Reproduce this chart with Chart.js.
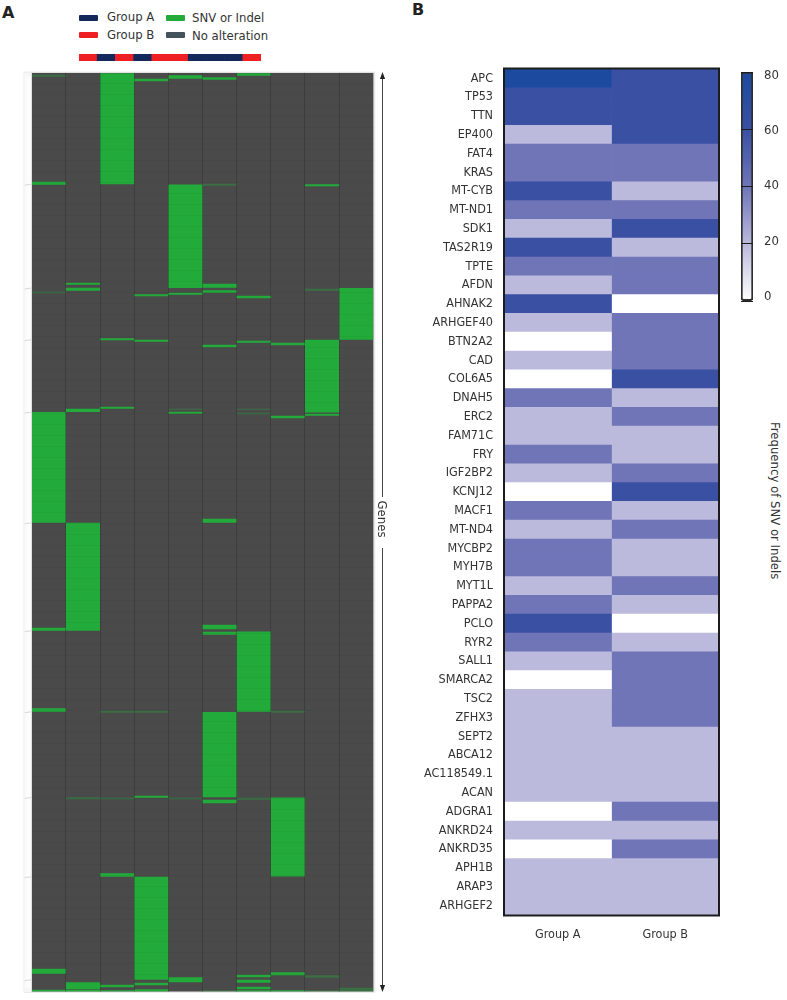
<!DOCTYPE html>
<html>
<head>
<meta charset="utf-8">
<title>SNV or Indel heatmaps</title>
<script src="https://cdn.jsdelivr.net/npm/chart.js@4"></script>
<style>
  body { margin: 0; background: #fff; width: 787px; height: 1000px; position: relative; overflow: hidden;
         font-family: 'DejaVu Sans Condensed', 'DejaVu Sans', sans-serif; color: #333; }
  canvas { position: absolute; }
  .txt { position: absolute; font-size: 13px; line-height: 16px; white-space: nowrap; }
  .sw { position: absolute; width: 19px; height: 6px; border-radius: 1px; }
  .panel { position: absolute; font: bold 16px 'DejaVu Sans', sans-serif; color: #222; line-height: 16px; }
  .vert { position: absolute; writing-mode: vertical-rl; font-size: 13px; white-space: nowrap; }
</style>
</head>
<body>
<div class="panel" style="left:2px;top:5px">A</div>
<div class="panel" style="left:412px;top:2px">B</div>

<div class="sw" style="left:79px;top:15px;background:#14285c"></div>
<div class="txt" style="left:107px;top:9px">Group A</div>
<div class="sw" style="left:79px;top:32px;background:#ee2024"></div>
<div class="txt" style="left:107px;top:27px">Group B</div>
<div class="sw" style="left:166px;top:15px;background:#22ab3a"></div>
<div class="txt" style="left:192px;top:10px">SNV or Indel</div>
<div class="sw" style="left:166px;top:32px;background:#44525c"></div>
<div class="txt" style="left:192px;top:28px">No alteration</div>
<div class="vert" style="left:768px;top:422px">Frequency of SNV or Indels</div>

<canvas id="oncoChart" width="400" height="1000" style="left:0;top:0"></canvas>
<canvas id="stripChart" width="182" height="7" style="left:79px;top:54px"></canvas>
<canvas id="freqChart" width="345" height="960" style="left:400px;top:0"></canvas>
<canvas id="scaleChart" width="57" height="320" style="left:730px;top:0"></canvas>

<script>
// Panel A: samples and their mutated gene rows (row 0 = top of the panel)
const samples = ['S1', 'S2', 'S3', 'S4', 'S5', 'S6', 'S7', 'S8', 'S9', 'S10'];
const sampleGroups = ['B', 'A', 'B', 'A', 'B', 'B', 'A', 'A', 'A', 'B'];
const rowCount = 919;

const sample1 = [[109, 112], [339.3, 450], [555, 558], [635.5, 639], [896, 901], [917, 919]];
const sample2 = [[210, 212], [215, 218], [336, 339.3], [450, 558], [909.5, 916.5], [917, 919]];
const sample3 = [[0, 111.5], [265.5, 267.5], [334, 336], [800.5, 804], [912, 914.5], [917.5, 919]];
const sample4 = [[6, 8.5], [221.5, 223.5], [267, 269], [723, 725], [804, 907], [910, 912.5], [916.5, 919]];
const sample5 = [[2.5, 6], [111.7, 215.3], [220, 222], [339, 341], [904.5, 909.5]];
const sample6 = [[4.5, 7], [211, 215], [217.5, 220], [272, 274.5], [446, 450], [552, 556.5], [559, 562], [639.3, 724.5], [727, 730.5]];
const sample7 = [[0, 3], [223, 225.5], [268, 270], [558.7, 639], [902, 904.5], [907, 910], [914, 916.5], [917.5, 919]];
const sample8 = [[270, 272.5], [343, 345.5], [724.7, 803.7], [899.5, 902.5], [917.5, 919]];
const sample9 = [[111.5, 113.5], [267, 339.7], [341, 343]];
const sample10 = [[215.3, 267]];

// weak bands in the same panel
const sample1Faint = [[2, 4], [219, 220.5]];
const sample2Faint = [[724.5, 726.5]];
const sample3Faint = [[725, 726.5], [638, 640]];
const sample4Faint = [[638, 640]];
const sample5Faint = [[336, 337], [725, 726.5]];
const sample6Faint = [[111, 113], [917.5, 919]];
const sample7Faint = [[336, 337], [340, 341.5], [725, 727]];
const sample8Faint = [[638, 640]];
const sample9Faint = [[216, 218], [902.5, 905], [917.5, 919]];
const sample10Faint = [[915, 919]];

const blockBreaks = [111.5, 215.3, 267, 339.3, 450, 558, 639, 724.7, 804, 907];

// Panel B: frequency of SNV or Indels
const genes = ['APC', 'TP53', 'TTN', 'EP400', 'FAT4', 'KRAS', 'MT-CYB', 'MT-ND1', 'SDK1', 'TAS2R19', 'TPTE', 'AFDN', 'AHNAK2', 'ARHGEF40', 'BTN2A2', 'CAD', 'COL6A5', 'DNAH5', 'ERC2', 'FAM71C', 'FRY', 'IGF2BP2', 'KCNJ12', 'MACF1', 'MT-ND4', 'MYCBP2', 'MYH7B', 'MYT1L', 'PAPPA2', 'PCLO', 'RYR2', 'SALL1', 'SMARCA2', 'TSC2', 'ZFHX3', 'SEPT2', 'ABCA12', 'AC118549.1', 'ACAN', 'ADGRA1', 'ANKRD24', 'ANKRD35', 'APH1B', 'ARAP3', 'ARHGEF2'];
const groupNames = ['Group A', 'Group B'];
const groupAFreq = [80, 60, 60, 20, 40, 40, 60, 40, 20, 60, 40, 20, 60, 20, 0, 20, 0, 40, 20, 20, 40, 20, 0, 40, 20, 40, 40, 20, 40, 60, 40, 20, 0, 20, 20, 20, 20, 20, 20, 0, 20, 0, 20, 20, 20];
const groupBFreq = [60, 60, 60, 60, 40, 40, 20, 40, 60, 20, 40, 40, 0, 40, 40, 40, 60, 20, 40, 20, 20, 40, 60, 20, 40, 20, 20, 40, 20, 0, 20, 40, 40, 40, 40, 20, 20, 20, 20, 40, 20, 40, 20, 20, 20];
const scaleTicks = [0, 20, 40, 60, 80];

const fontName = "'DejaVu Sans Condensed', 'DejaVu Sans', sans-serif";
const green = '#22ab3a';
const greenFaint = 'rgba(34, 171, 58, 0.38)';
const freqColors = { 0: '#ffffff', 20: '#bbb9dc', 40: '#6f75b7', 60: '#3a50a3', 80: '#1c4a9e' };

// one dataset per layer, so a sample can hold several bands
function bandLayers(lists, color, inflate) {
  const depth = Math.max(...lists.map(l => l.length));
  const layers = [];
  for (let i = 0; i < depth; i++) {
    layers.push({
      data: lists.map(l => l[i] || null),
      backgroundColor: color,
      barPercentage: 1,
      categoryPercentage: 1,
      grouped: false,
      inflateAmount: inflate
    });
  }
  return layers;
}

// Arrow, "Genes" label and the pale tree strip left of the panel
const oncoDecor = {
  id: 'oncoDecor',
  afterDraw(chart) {
    const { ctx, chartArea: a, scales } = chart;
    ctx.save();
    // pale frame
    ctx.strokeStyle = '#e2e2e2';
    ctx.lineWidth = 1;
    ctx.beginPath();
    ctx.moveTo(a.left - 8, a.top - 0.5);
    ctx.lineTo(a.right + 1.5, a.top - 0.5);
    ctx.lineTo(a.right + 1.5, a.bottom + 0.5);
    ctx.lineTo(a.left - 8, a.bottom + 0.5);
    ctx.stroke();
    ctx.fillStyle = '#f6f6f6';
    ctx.fillRect(a.left - 9, a.top, 9, a.bottom - a.top);
    ctx.fillStyle = '#fcfcfc';
    ctx.fillRect(a.left - 6, a.top + 4, 5, a.bottom - a.top - 8);
    ctx.strokeStyle = '#d8d8d8';
    blockBreaks.forEach(r => {
      const y = scales.y.getPixelForValue(r);
      ctx.beginPath();
      ctx.moveTo(a.left - 7, y + 1);
      ctx.lineTo(a.left, y);
      ctx.stroke();
    });

    // genes arrow
    const x = 382.5;
    ctx.strokeStyle = '#444';
    ctx.fillStyle = '#222';
    ctx.beginPath();
    ctx.moveTo(x, 74);
    ctx.lineTo(x, 497);
    ctx.moveTo(x, 548);
    ctx.lineTo(x, 990);
    ctx.stroke();
    ctx.beginPath();
    ctx.moveTo(x, 72);
    ctx.lineTo(x - 2.6, 79);
    ctx.lineTo(x + 2.6, 79);
    ctx.closePath();
    ctx.moveTo(x, 992);
    ctx.lineTo(x - 2.6, 985);
    ctx.lineTo(x + 2.6, 985);
    ctx.closePath();
    ctx.fill();

    ctx.translate(381, 519);
    ctx.rotate(Math.PI / 2);
    ctx.font = '13px ' + fontName;
    ctx.fillStyle = '#333';
    ctx.textAlign = 'center';
    ctx.textBaseline = 'middle';
    ctx.fillText('Genes', 0, 0);
    ctx.restore();
  }
};

// Panel A: dark background bars last in the list so they sit under the bands
new Chart(document.getElementById('oncoChart'), {
  type: 'bar',
  data: {
    labels: samples,
    datasets: [
      ...bandLayers([sample1, sample2, sample3, sample4, sample5, sample6, sample7, sample8, sample9, sample10], green, 0),
      ...bandLayers([sample1Faint, sample2Faint, sample3Faint, sample4Faint, sample5Faint, sample6Faint, sample7Faint, sample8Faint, sample9Faint, sample10Faint], greenFaint, 0),
      ...bandLayers(samples.map(() => [[0, rowCount]]), '#4a4a4a', 0.6)
    ]
  },
  options: {
    responsive: false,
    animation: false,
    layout: { padding: { left: 31.7, top: 72.7, right: 26.7, bottom: 8.3 } },
    plugins: { legend: { display: false }, tooltip: { enabled: false } },
    scales: {
      x: {
        ticks: { display: false },
        border: { display: false },
        grid: { drawTicks: false, color: 'rgba(0, 0, 0, 0.16)', z: 1 }
      },
      y: {
        reverse: true,
        min: 0,
        max: rowCount,
        ticks: { display: false, stepSize: 11 },
        border: { display: false },
        grid: { drawTicks: false, color: 'rgba(0, 0, 0, 0.04)', z: 1 }
      }
    }
  },
  plugins: [oncoDecor]
});

// Group strip above panel A
new Chart(document.getElementById('stripChart'), {
  type: 'bar',
  data: {
    labels: samples,
    datasets: [{
      data: samples.map(() => 1),
      backgroundColor: sampleGroups.map(g => g === 'A' ? '#14285c' : '#ee2024'),
      barPercentage: 1,
      categoryPercentage: 1
    }]
  },
  options: {
    responsive: false,
    animation: false,
    plugins: { legend: { display: false }, tooltip: { enabled: false } },
    scales: {
      x: { display: false },
      y: { display: false, min: 0, max: 1 }
    }
  }
});

// Black frame around panel B
const heatFrame = {
  id: 'heatFrame',
  afterDraw(chart) {
    const { ctx, chartArea: a } = chart;
    ctx.save();
    ctx.strokeStyle = '#1c1c1c';
    ctx.lineWidth = 2;
    ctx.strokeRect(a.left, a.top - 0.5, a.right - a.left, a.bottom - a.top + 1);
    ctx.restore();
  }
};

function freqDataset(freqs, name) {
  return {
    label: name,
    data: genes.map(() => 1),
    backgroundColor: freqs.map(v => freqColors[v]),
    barPercentage: 1,
    categoryPercentage: 1
  };
}

new Chart(document.getElementById('freqChart'), {
  type: 'bar',
  data: {
    labels: genes,
    datasets: [freqDataset(groupAFreq, groupNames[0]), freqDataset(groupBFreq, groupNames[1])]
  },
  options: {
    indexAxis: 'y',
    responsive: false,
    animation: false,
    layout: { padding: { top: 69, right: 26, bottom: 0 } },
    plugins: { legend: { display: false }, tooltip: { enabled: false } },
    scales: {
      x: {
        stacked: true,
        min: 0,
        max: 2,
        afterBuildTicks(scale) { scale.ticks = [{ value: 0.5 }, { value: 1.5 }]; },
        afterFit(scale) { scale.height = 45; },
        ticks: {
          padding: 4,
          color: '#333',
          font: { family: fontName, size: 12.5 },
          callback: value => groupNames[value - 0.5]
        },
        border: { display: false },
        grid: { display: false }
      },
      y: {
        stacked: true,
        afterFit(scale) { scale.width = 104; },
        ticks: {
          autoSkip: false,
          padding: 3,
          color: '#333',
          font: { family: fontName, size: 12.5 }
        },
        border: { display: false },
        grid: { display: false }
      }
    }
  },
  plugins: [heatFrame]
});

// Colour bar: gradient bar on one axis, labels on a second axis
function scaleGradient(context) {
  const { ctx, chartArea, scales } = context.chart;
  if (!chartArea) return freqColors[40];
  const g = ctx.createLinearGradient(0, scales.y.getPixelForValue(0), 0, scales.y.getPixelForValue(80));
  scaleTicks.forEach(t => g.addColorStop(t / 80, freqColors[t]));
  return g;
}

new Chart(document.getElementById('scaleChart'), {
  type: 'bar',
  data: {
    labels: ['Frequency'],
    datasets: [{
      data: [[scaleTicks[0], scaleTicks[4]]],
      backgroundColor: scaleGradient,
      borderColor: '#2e2e2e',
      borderWidth: 2,
      borderRadius: 3,
      borderSkipped: false,
      barPercentage: 1,
      categoryPercentage: 1,
      yAxisID: 'y'
    }]
  },
  options: {
    responsive: false,
    animation: false,
    layout: { padding: { left: 11, top: 72, right: 0, bottom: 15 } },
    plugins: { legend: { display: false }, tooltip: { enabled: false } },
    scales: {
      x: { display: false },
      y: {
        position: 'left',
        min: 0,
        max: 80,
        afterBuildTicks(scale) { scale.ticks = scaleTicks.map(value => ({ value })); },
        afterFit(scale) { scale.width = 0; },
        ticks: { display: false },
        border: { display: false },
        grid: { drawTicks: false, color: '#1c1c1c', z: 1 }
      },
      labels: {
        position: 'right',
        min: -1.79,
        max: 81.43,
        afterBuildTicks(scale) { scale.ticks = scaleTicks.map(value => ({ value })); },
        afterFit(scale) { scale.width = 34; },
        ticks: { padding: 11, color: '#333', font: { family: fontName, size: 13 } },
        border: { display: false },
        grid: { display: false, drawTicks: false }
      }
    }
  }
});
</script>
</body>
</html>
